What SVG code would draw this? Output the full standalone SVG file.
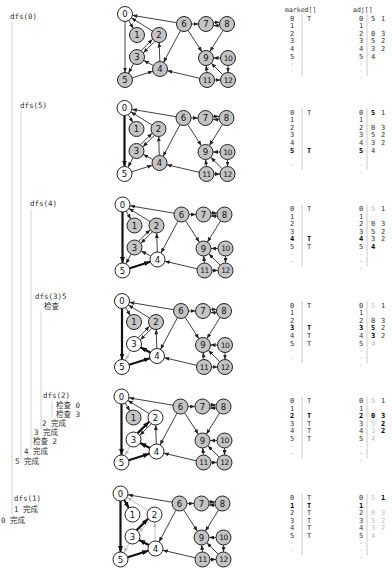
<svg xmlns="http://www.w3.org/2000/svg" width="392" height="571" viewBox="0 0 392 571">
<defs>
<marker id="a" markerUnits="userSpaceOnUse" markerWidth="5" markerHeight="4" refX="5" refY="2" orient="auto"><path d="M0,0 L5,2 L0,4 z" fill="#222"/></marker>
<marker id="ab" markerUnits="userSpaceOnUse" markerWidth="6" markerHeight="5" refX="6" refY="2.5" orient="auto"><path d="M0,0 L6,2.5 L0,5 z" fill="#111"/></marker>
<marker id="ag" markerUnits="userSpaceOnUse" markerWidth="5" markerHeight="4" refX="5" refY="2" orient="auto"><path d="M0,0 L5,2 L0,4 z" fill="#bdbdbd"/></marker>
<style>
.e{stroke:#2a2a2a;stroke-width:0.9;marker-end:url(#a)}
.t{stroke:#111;stroke-width:2.2;marker-end:url(#ab)}
.x{stroke:#c4c4c4;stroke-width:1;marker-end:url(#ag)}
circle.g{fill:#c4c4c4;stroke:#222;stroke-width:1}
circle.w{fill:#fff;stroke:#222;stroke-width:1}
.nl{font-family:"DejaVu Sans",sans-serif;font-size:8.5px;text-anchor:middle;fill:#111}
.nl2{font-family:"DejaVu Sans",sans-serif;font-size:7.5px;text-anchor:middle;fill:#111;letter-spacing:-0.6px}
.tr{font-family:"DejaVu Sans Mono","Noto Sans CJK SC",monospace;font-size:7.5px;fill:#333}
.tl{stroke:#c8c8c8;stroke-width:0.8}
.tb{font-family:"DejaVu Sans Mono",monospace;font-size:7px;fill:#333;text-anchor:middle}
.hd{font-family:"DejaVu Sans Mono",monospace;font-size:6.5px;fill:#333}
.b{font-weight:bold;fill:#000}
.gr{fill:#c0c0c0}
.vl{stroke:#bdbdbd;stroke-width:0.8}
.dt{fill:#aaa}
</style>
</defs>
<rect width="392" height="571" fill="#fff"/>

<!-- trace -->
<g id="trace">
<line class="tl" x1="12" y1="22" x2="12" y2="514"/>
<line class="tl" x1="21" y1="111" x2="21" y2="459"/>
<line class="tl" x1="31" y1="209" x2="31" y2="449"/>
<line class="tl" x1="41" y1="311" x2="41" y2="429"/>
<line class="tl" x1="52" y1="401" x2="52" y2="419"/>
<text class="tr" x="10" y="19">dfs(0)</text>
<text class="tr" x="20" y="108">dfs(5)</text>
<text class="tr" x="30" y="206">dfs(4)</text>
<text class="tr" x="35" y="299">dfs(3)5</text>
<text class="tr" x="44" y="309">检查</text>
<text class="tr" x="43" y="398">dfs(2)</text>
<text class="tr" x="56" y="408">检查 0</text>
<text class="tr" x="56" y="417">检查 3</text>
<text class="tr" x="42" y="426">2 完成</text>
<text class="tr" x="34" y="435">3 完成</text>
<text class="tr" x="33" y="444">检查 2</text>
<text class="tr" x="24" y="454">4 完成</text>
<text class="tr" x="15" y="464">5 完成</text>
<text class="tr" x="14" y="501">dfs(1)</text>
<text class="tr" x="14" y="512">1 完成</text>
<text class="tr" x="1" y="523">0 完成</text>
</g>

<!-- headers -->
<text class="hd" x="285" y="12">marked[]</text>
<text class="hd" x="353" y="12">adj[]</text>

<!-- ============ PANEL 1 ============ -->
<g id="panel1" transform="translate(0,0)">
<g id="p1-edges">
<line class="e" x1="128.7" y1="20.5" x2="133.3" y2="28.5"/>
<line class="e" x1="125" y1="21.5" x2="125" y2="72.5"/>
<line class="e" x1="152.6" y1="31.1" x2="131.4" y2="17.9"/>
<line class="e" x1="176.6" y1="22.7" x2="132.4" y2="15.3"/>
<line class="e" x1="154.8" y1="41.4" x2="143.4" y2="52.8"/>
<line class="e" x1="141.2" y1="50.6" x2="152.6" y2="39.2"/>
<line class="e" x1="133.5" y1="63.7" x2="128.5" y2="73.3"/>
<line class="e" x1="153.3" y1="65.5" x2="143.7" y2="60.5"/>
<line class="e" x1="159.8" y1="61.5" x2="159.2" y2="42.5"/>
<line class="e" x1="132.2" y1="77.8" x2="152.8" y2="71.3"/>
<line class="e" x1="180.5" y1="30.6" x2="163.5" y2="62.4"/>
<line class="e" x1="188.1" y1="30.3" x2="201.9" y2="51.7"/>
<line class="e" x1="191.5" y1="24" x2="198.5" y2="24"/>
<line class="e" x1="213.5" y1="22.4" x2="219.5" y2="22.4"/>
<line class="e" x1="219.5" y1="25.6" x2="213.5" y2="25.6"/>
<line class="e" x1="223.1" y1="30.4" x2="209.9" y2="51.6"/>
<line class="e" x1="220.5" y1="58" x2="213.5" y2="58"/>
<line class="e" x1="228" y1="65.5" x2="228" y2="72.5"/>
<line class="e" x1="222.7" y1="74.7" x2="211.3" y2="63.3"/>
<line class="e" x1="207" y1="72.5" x2="206.1" y2="65.5"/>
<line class="e" x1="214.5" y1="80" x2="220.5" y2="80"/>
<line class="e" x1="199.7" y1="78.3" x2="167.3" y2="70.7"/>
</g>
<g id="p1-n0"><circle class="w" cx="125" cy="14" r="7.5"/><text class="nl" x="125" y="17">0</text></g>
<g id="p1-n1"><circle class="g" cx="137" cy="35" r="7.5"/><text class="nl" x="137" y="38">1</text></g>
<g id="p1-n2"><circle class="g" cx="159" cy="35" r="7.5"/><text class="nl" x="159" y="38">2</text></g>
<g id="p1-n3"><circle class="g" cx="137" cy="57" r="7.5"/><text class="nl" x="137" y="60">3</text></g>
<g id="p1-n4"><circle class="g" cx="160" cy="69" r="7.5"/><text class="nl" x="160" y="72">4</text></g>
<g id="p1-n5"><circle class="g" cx="125" cy="80" r="7.5"/><text class="nl" x="125" y="83">5</text></g>
<g id="p1-n6"><circle class="g" cx="184" cy="24" r="7.5"/><text class="nl" x="184" y="27">6</text></g>
<g id="p1-n7"><circle class="g" cx="206" cy="24" r="7.5"/><text class="nl" x="206" y="27">7</text></g>
<g id="p1-n8"><circle class="g" cx="227" cy="24" r="7.5"/><text class="nl" x="227" y="27">8</text></g>
<g id="p1-n9"><circle class="g" cx="206" cy="58" r="7.5"/><text class="nl" x="206" y="61">9</text></g>
<g id="p1-n10"><circle class="g" cx="228" cy="58" r="7.5"/><text class="nl2" x="228" y="60.7">10</text></g>
<g id="p1-n11"><circle class="g" cx="207" cy="80" r="7.5"/><text class="nl2" x="207" y="82.7">11</text></g>
<g id="p1-n12"><circle class="g" cx="228" cy="80" r="7.5"/><text class="nl2" x="228" y="82.7">12</text></g>
</g>
<g id="p1-marked">
<line class="vl" x1="302" y1="14" x2="302" y2="76"/>
<text class="tb" x="292" y="20.5">0</text><text class="tb" x="292" y="28.1">1</text><text class="tb" x="292" y="35.7">2</text><text class="tb" x="292" y="43.3">3</text><text class="tb" x="292" y="50.9">4</text><text class="tb" x="292" y="58.5">5</text>
<circle class="dt" cx="292" cy="64" r="0.6"/><circle class="dt" cx="292" cy="71" r="0.6"/>
<text class="tb" x="309" y="20.5">T</text>
</g>
<g id="p1-adj">
<line class="vl" x1="367" y1="14" x2="367" y2="76"/>
<text class="tb" x="361" y="20.5">0</text><text class="tb" x="361" y="28.1">1</text><text class="tb" x="361" y="35.7">2</text><text class="tb" x="361" y="43.3">3</text><text class="tb" x="361" y="50.9">4</text><text class="tb" x="361" y="58.5">5</text>
<circle class="dt" cx="361" cy="64" r="0.6"/><circle class="dt" cx="361" cy="71" r="0.6"/><circle class="dt" cx="361" cy="78" r="0.6"/>
<text class="tb" x="373" y="20.5">5</text><text class="tb" x="383" y="20.5">1</text>
<text class="tb" x="373" y="35.7">0</text><text class="tb" x="383" y="35.7">3</text>
<text class="tb" x="373" y="43.3">5</text><text class="tb" x="383" y="43.3">2</text>
<text class="tb" x="373" y="50.9">3</text><text class="tb" x="383" y="50.9">2</text>
<text class="tb" x="373" y="58.5">4</text>
</g>

<!-- ============ PANEL 2 ============ -->
<g id="panel2" transform="translate(-0.5,94)">
<g id="p2-edges">
<line class="e" x1="128.7" y1="20.5" x2="133.3" y2="28.5"/>
<line class="t" x1="125" y1="21.5" x2="125" y2="72.5"/>
<line class="e" x1="152.6" y1="31.1" x2="131.4" y2="17.9"/>
<line class="e" x1="176.6" y1="22.7" x2="132.4" y2="15.3"/>
<line class="e" x1="154.8" y1="41.4" x2="143.4" y2="52.8"/>
<line class="e" x1="141.2" y1="50.6" x2="152.6" y2="39.2"/>
<line class="e" x1="133.5" y1="63.7" x2="128.5" y2="73.3"/>
<line class="e" x1="153.3" y1="65.5" x2="143.7" y2="60.5"/>
<line class="e" x1="159.8" y1="61.5" x2="159.2" y2="42.5"/>
<line class="e" x1="132.2" y1="77.8" x2="152.8" y2="71.3"/>
<line class="e" x1="180.5" y1="30.6" x2="163.5" y2="62.4"/>
<line class="e" x1="188.1" y1="30.3" x2="201.9" y2="51.7"/>
<line class="e" x1="191.5" y1="24" x2="198.5" y2="24"/>
<line class="e" x1="213.5" y1="22.4" x2="219.5" y2="22.4"/>
<line class="e" x1="219.5" y1="25.6" x2="213.5" y2="25.6"/>
<line class="e" x1="223.1" y1="30.4" x2="209.9" y2="51.6"/>
<line class="e" x1="220.5" y1="58" x2="213.5" y2="58"/>
<line class="e" x1="228" y1="65.5" x2="228" y2="72.5"/>
<line class="e" x1="222.7" y1="74.7" x2="211.3" y2="63.3"/>
<line class="e" x1="207" y1="72.5" x2="206.1" y2="65.5"/>
<line class="e" x1="214.5" y1="80" x2="220.5" y2="80"/>
<line class="e" x1="199.7" y1="78.3" x2="167.3" y2="70.7"/>
</g>
<g id="p2-n0"><circle class="w" cx="125" cy="14" r="7.5"/><text class="nl" x="125" y="17">0</text></g>
<g id="p2-n1"><circle class="g" cx="137" cy="35" r="7.5"/><text class="nl" x="137" y="38">1</text></g>
<g id="p2-n2"><circle class="g" cx="159" cy="35" r="7.5"/><text class="nl" x="159" y="38">2</text></g>
<g id="p2-n3"><circle class="g" cx="137" cy="57" r="7.5"/><text class="nl" x="137" y="60">3</text></g>
<g id="p2-n4"><circle class="g" cx="160" cy="69" r="7.5"/><text class="nl" x="160" y="72">4</text></g>
<g id="p2-n5"><circle class="w" cx="125" cy="80" r="7.5"/><text class="nl" x="125" y="83">5</text></g>
<g id="p2-n6"><circle class="g" cx="184" cy="24" r="7.5"/><text class="nl" x="184" y="27">6</text></g>
<g id="p2-n7"><circle class="g" cx="206" cy="24" r="7.5"/><text class="nl" x="206" y="27">7</text></g>
<g id="p2-n8"><circle class="g" cx="227" cy="24" r="7.5"/><text class="nl" x="227" y="27">8</text></g>
<g id="p2-n9"><circle class="g" cx="206" cy="58" r="7.5"/><text class="nl" x="206" y="61">9</text></g>
<g id="p2-n10"><circle class="g" cx="228" cy="58" r="7.5"/><text class="nl2" x="228" y="60.7">10</text></g>
<g id="p2-n11"><circle class="g" cx="207" cy="80" r="7.5"/><text class="nl2" x="207" y="82.7">11</text></g>
<g id="p2-n12"><circle class="g" cx="228" cy="80" r="7.5"/><text class="nl2" x="228" y="82.7">12</text></g>
</g>
<g id="p2-marked" transform="translate(0,94)">
<line class="vl" x1="302" y1="14" x2="302" y2="76"/>
<text class="tb" x="292" y="20.5">0</text><text class="tb" x="292" y="28.1">1</text><text class="tb" x="292" y="35.7">2</text><text class="tb" x="292" y="43.3">3</text><text class="tb" x="292" y="50.9">4</text><text class="tb b" x="292" y="58.5">5</text>
<circle class="dt" cx="292" cy="64" r="0.6"/><circle class="dt" cx="292" cy="71" r="0.6"/>
<text class="tb" x="309" y="20.5">T</text><text class="tb b" x="309" y="58.5">T</text>
</g>
<g id="p2-adj" transform="translate(0,94)">
<line class="vl" x1="367" y1="14" x2="367" y2="76"/>
<text class="tb" x="361" y="20.5">0</text><text class="tb" x="361" y="28.1">1</text><text class="tb" x="361" y="35.7">2</text><text class="tb" x="361" y="43.3">3</text><text class="tb" x="361" y="50.9">4</text><text class="tb b" x="361" y="58.5">5</text>
<circle class="dt" cx="361" cy="64" r="0.6"/><circle class="dt" cx="361" cy="71" r="0.6"/><circle class="dt" cx="361" cy="78" r="0.6"/>
<text class="tb b" x="373" y="20.5">5</text><text class="tb" x="383" y="20.5">1</text>
<text class="tb" x="373" y="35.7">0</text><text class="tb" x="383" y="35.7">3</text>
<text class="tb" x="373" y="43.3">5</text><text class="tb" x="383" y="43.3">2</text>
<text class="tb" x="373" y="50.9">3</text><text class="tb" x="383" y="50.9">2</text>
<text class="tb" x="373" y="58.5">4</text>
</g>

<!-- ============ PANEL 3 ============ -->
<g id="panel3" transform="translate(-2.5,190.5)">
<g id="p3-edges">
<line class="e" x1="128.7" y1="20.5" x2="133.3" y2="28.5"/>
<line class="t" x1="125" y1="21.5" x2="125" y2="72.5"/>
<line class="e" x1="152.6" y1="31.1" x2="131.4" y2="17.9"/>
<line class="e" x1="176.6" y1="22.7" x2="132.4" y2="15.3"/>
<line class="e" x1="154.8" y1="41.4" x2="143.4" y2="52.8"/>
<line class="e" x1="141.2" y1="50.6" x2="152.6" y2="39.2"/>
<line class="e" x1="133.5" y1="63.7" x2="128.5" y2="73.3"/>
<line class="e" x1="153.3" y1="65.5" x2="143.7" y2="60.5"/>
<line class="e" x1="159.8" y1="61.5" x2="159.2" y2="42.5"/>
<line class="t" x1="132.2" y1="77.8" x2="152.8" y2="71.3"/>
<line class="e" x1="180.5" y1="30.6" x2="163.5" y2="62.4"/>
<line class="e" x1="188.1" y1="30.3" x2="201.9" y2="51.7"/>
<line class="e" x1="191.5" y1="24" x2="198.5" y2="24"/>
<line class="e" x1="213.5" y1="22.4" x2="219.5" y2="22.4"/>
<line class="e" x1="219.5" y1="25.6" x2="213.5" y2="25.6"/>
<line class="e" x1="223.1" y1="30.4" x2="209.9" y2="51.6"/>
<line class="e" x1="220.5" y1="58" x2="213.5" y2="58"/>
<line class="e" x1="228" y1="65.5" x2="228" y2="72.5"/>
<line class="e" x1="222.7" y1="74.7" x2="211.3" y2="63.3"/>
<line class="e" x1="207" y1="72.5" x2="206.1" y2="65.5"/>
<line class="e" x1="214.5" y1="80" x2="220.5" y2="80"/>
<line class="e" x1="199.7" y1="78.3" x2="167.3" y2="70.7"/>
</g>
<g id="p3-n0"><circle class="w" cx="125" cy="14" r="7.5"/><text class="nl" x="125" y="17">0</text></g>
<g id="p3-n1"><circle class="g" cx="137" cy="35" r="7.5"/><text class="nl" x="137" y="38">1</text></g>
<g id="p3-n2"><circle class="g" cx="159" cy="35" r="7.5"/><text class="nl" x="159" y="38">2</text></g>
<g id="p3-n3"><circle class="g" cx="137" cy="57" r="7.5"/><text class="nl" x="137" y="60">3</text></g>
<g id="p3-n4"><circle class="w" cx="160" cy="69" r="7.5"/><text class="nl" x="160" y="72">4</text></g>
<g id="p3-n5"><circle class="w" cx="125" cy="80" r="7.5"/><text class="nl" x="125" y="83">5</text></g>
<g id="p3-n6"><circle class="g" cx="184" cy="24" r="7.5"/><text class="nl" x="184" y="27">6</text></g>
<g id="p3-n7"><circle class="g" cx="206" cy="24" r="7.5"/><text class="nl" x="206" y="27">7</text></g>
<g id="p3-n8"><circle class="g" cx="227" cy="24" r="7.5"/><text class="nl" x="227" y="27">8</text></g>
<g id="p3-n9"><circle class="g" cx="206" cy="58" r="7.5"/><text class="nl" x="206" y="61">9</text></g>
<g id="p3-n10"><circle class="g" cx="228" cy="58" r="7.5"/><text class="nl2" x="228" y="60.7">10</text></g>
<g id="p3-n11"><circle class="g" cx="207" cy="80" r="7.5"/><text class="nl2" x="207" y="82.7">11</text></g>
<g id="p3-n12"><circle class="g" cx="228" cy="80" r="7.5"/><text class="nl2" x="228" y="82.7">12</text></g>
</g>
<g id="p3-marked" transform="translate(0,190.5)">
<line class="vl" x1="302" y1="14" x2="302" y2="76"/>
<text class="tb" x="292" y="20.5">0</text><text class="tb" x="292" y="28.1">1</text><text class="tb" x="292" y="35.7">2</text><text class="tb" x="292" y="43.3">3</text><text class="tb b" x="292" y="50.9">4</text><text class="tb" x="292" y="58.5">5</text>
<circle class="dt" cx="292" cy="64" r="0.6"/><circle class="dt" cx="292" cy="71" r="0.6"/>
<text class="tb" x="309" y="20.5">T</text><text class="tb b" x="309" y="50.9">T</text><text class="tb" x="309" y="58.5">T</text>
</g>
<g id="p3-adj" transform="translate(0,190.5)">
<line class="vl" x1="367" y1="14" x2="367" y2="76"/>
<text class="tb" x="361" y="20.5">0</text><text class="tb" x="361" y="28.1">1</text><text class="tb" x="361" y="35.7">2</text><text class="tb" x="361" y="43.3">3</text><text class="tb b" x="361" y="50.9">4</text><text class="tb" x="361" y="58.5">5</text>
<circle class="dt" cx="361" cy="64" r="0.6"/><circle class="dt" cx="361" cy="71" r="0.6"/><circle class="dt" cx="361" cy="78" r="0.6"/>
<text class="tb gr" x="373" y="20.5">5</text><text class="tb" x="383" y="20.5">1</text>
<text class="tb" x="373" y="35.7">0</text><text class="tb" x="383" y="35.7">3</text>
<text class="tb" x="373" y="43.3">5</text><text class="tb" x="383" y="43.3">2</text>
<text class="tb" x="373" y="50.9">3</text><text class="tb" x="383" y="50.9">2</text>
<text class="tb b" x="373" y="58.5">4</text>
</g>

<!-- ============ PANEL 4 ============ -->
<g id="panel4" transform="translate(-3,287)">
<g id="p4-edges">
<line class="e" x1="128.7" y1="20.5" x2="133.3" y2="28.5"/>
<line class="t" x1="125" y1="21.5" x2="125" y2="72.5"/>
<line class="e" x1="152.6" y1="31.1" x2="131.4" y2="17.9"/>
<line class="e" x1="176.6" y1="22.7" x2="132.4" y2="15.3"/>
<line class="e" x1="154.8" y1="41.4" x2="143.4" y2="52.8"/>
<line class="e" x1="141.2" y1="50.6" x2="152.6" y2="39.2"/>
<line class="x" x1="133.5" y1="63.7" x2="128.5" y2="73.3"/>
<line class="t" x1="153.3" y1="65.5" x2="143.7" y2="60.5"/>
<line class="e" x1="159.8" y1="61.5" x2="159.2" y2="42.5"/>
<line class="t" x1="132.2" y1="77.8" x2="152.8" y2="71.3"/>
<line class="e" x1="180.5" y1="30.6" x2="163.5" y2="62.4"/>
<line class="e" x1="188.1" y1="30.3" x2="201.9" y2="51.7"/>
<line class="e" x1="191.5" y1="24" x2="198.5" y2="24"/>
<line class="e" x1="213.5" y1="22.4" x2="219.5" y2="22.4"/>
<line class="e" x1="219.5" y1="25.6" x2="213.5" y2="25.6"/>
<line class="e" x1="223.1" y1="30.4" x2="209.9" y2="51.6"/>
<line class="e" x1="220.5" y1="58" x2="213.5" y2="58"/>
<line class="e" x1="228" y1="65.5" x2="228" y2="72.5"/>
<line class="e" x1="222.7" y1="74.7" x2="211.3" y2="63.3"/>
<line class="e" x1="207" y1="72.5" x2="206.1" y2="65.5"/>
<line class="e" x1="214.5" y1="80" x2="220.5" y2="80"/>
<line class="e" x1="199.7" y1="78.3" x2="167.3" y2="70.7"/>
</g>
<g id="p4-n0"><circle class="w" cx="125" cy="14" r="7.5"/><text class="nl" x="125" y="17">0</text></g>
<g id="p4-n1"><circle class="g" cx="137" cy="35" r="7.5"/><text class="nl" x="137" y="38">1</text></g>
<g id="p4-n2"><circle class="g" cx="159" cy="35" r="7.5"/><text class="nl" x="159" y="38">2</text></g>
<g id="p4-n3"><circle class="w" cx="137" cy="57" r="7.5"/><text class="nl" x="137" y="60">3</text></g>
<g id="p4-n4"><circle class="w" cx="160" cy="69" r="7.5"/><text class="nl" x="160" y="72">4</text></g>
<g id="p4-n5"><circle class="w" cx="125" cy="80" r="7.5"/><text class="nl" x="125" y="83">5</text></g>
<g id="p4-n6"><circle class="g" cx="184" cy="24" r="7.5"/><text class="nl" x="184" y="27">6</text></g>
<g id="p4-n7"><circle class="g" cx="206" cy="24" r="7.5"/><text class="nl" x="206" y="27">7</text></g>
<g id="p4-n8"><circle class="g" cx="227" cy="24" r="7.5"/><text class="nl" x="227" y="27">8</text></g>
<g id="p4-n9"><circle class="g" cx="206" cy="58" r="7.5"/><text class="nl" x="206" y="61">9</text></g>
<g id="p4-n10"><circle class="g" cx="228" cy="58" r="7.5"/><text class="nl2" x="228" y="60.7">10</text></g>
<g id="p4-n11"><circle class="g" cx="207" cy="80" r="7.5"/><text class="nl2" x="207" y="82.7">11</text></g>
<g id="p4-n12"><circle class="g" cx="228" cy="80" r="7.5"/><text class="nl2" x="228" y="82.7">12</text></g>
</g>
<g id="p4-marked" transform="translate(0,287)">
<line class="vl" x1="302" y1="14" x2="302" y2="76"/>
<text class="tb" x="292" y="20.5">0</text><text class="tb" x="292" y="28.1">1</text><text class="tb" x="292" y="35.7">2</text><text class="tb b" x="292" y="43.3">3</text><text class="tb" x="292" y="50.9">4</text><text class="tb" x="292" y="58.5">5</text>
<circle class="dt" cx="292" cy="64" r="0.6"/><circle class="dt" cx="292" cy="71" r="0.6"/>
<text class="tb" x="309" y="20.5">T</text><text class="tb b" x="309" y="43.3">T</text><text class="tb" x="309" y="50.9">T</text><text class="tb" x="309" y="58.5">T</text>
</g>
<g id="p4-adj" transform="translate(0,287)">
<line class="vl" x1="367" y1="14" x2="367" y2="76"/>
<text class="tb" x="361" y="20.5">0</text><text class="tb" x="361" y="28.1">1</text><text class="tb" x="361" y="35.7">2</text><text class="tb b" x="361" y="43.3">3</text><text class="tb" x="361" y="50.9">4</text><text class="tb" x="361" y="58.5">5</text>
<circle class="dt" cx="361" cy="64" r="0.6"/><circle class="dt" cx="361" cy="71" r="0.6"/><circle class="dt" cx="361" cy="78" r="0.6"/>
<text class="tb gr" x="373" y="20.5">5</text><text class="tb" x="383" y="20.5">1</text>
<text class="tb" x="373" y="35.7">0</text><text class="tb" x="383" y="35.7">3</text>
<text class="tb b" x="373" y="43.3">5</text><text class="tb" x="383" y="43.3">2</text>
<text class="tb b" x="373" y="50.9">3</text><text class="tb" x="383" y="50.9">2</text>
<text class="tb gr" x="373" y="58.5">4</text>
</g>

<!-- ============ PANEL 5 ============ -->
<g id="panel5" transform="translate(-3.5,382.5)">
<g id="p5-edges">
<line class="e" x1="128.7" y1="20.5" x2="133.3" y2="28.5"/>
<line class="t" x1="125" y1="21.5" x2="125" y2="72.5"/>
<line class="e" x1="152.6" y1="31.1" x2="131.4" y2="17.9"/>
<line class="e" x1="176.6" y1="22.7" x2="132.4" y2="15.3"/>
<line class="e" x1="154.8" y1="41.4" x2="143.4" y2="52.8"/>
<line class="t" x1="141.2" y1="50.6" x2="152.6" y2="39.2"/>
<line class="x" x1="133.5" y1="63.7" x2="128.5" y2="73.3"/>
<line class="t" x1="153.3" y1="65.5" x2="143.7" y2="60.5"/>
<line class="e" x1="159.8" y1="61.5" x2="159.2" y2="42.5"/>
<line class="t" x1="132.2" y1="77.8" x2="152.8" y2="71.3"/>
<line class="e" x1="180.5" y1="30.6" x2="163.5" y2="62.4"/>
<line class="e" x1="188.1" y1="30.3" x2="201.9" y2="51.7"/>
<line class="e" x1="191.5" y1="24" x2="198.5" y2="24"/>
<line class="e" x1="213.5" y1="22.4" x2="219.5" y2="22.4"/>
<line class="e" x1="219.5" y1="25.6" x2="213.5" y2="25.6"/>
<line class="e" x1="223.1" y1="30.4" x2="209.9" y2="51.6"/>
<line class="e" x1="220.5" y1="58" x2="213.5" y2="58"/>
<line class="e" x1="228" y1="65.5" x2="228" y2="72.5"/>
<line class="e" x1="222.7" y1="74.7" x2="211.3" y2="63.3"/>
<line class="e" x1="207" y1="72.5" x2="206.1" y2="65.5"/>
<line class="e" x1="214.5" y1="80" x2="220.5" y2="80"/>
<line class="e" x1="199.7" y1="78.3" x2="167.3" y2="70.7"/>
</g>
<g id="p5-n0"><circle class="w" cx="125" cy="14" r="7.5"/><text class="nl" x="125" y="17">0</text></g>
<g id="p5-n1"><circle class="g" cx="137" cy="35" r="7.5"/><text class="nl" x="137" y="38">1</text></g>
<g id="p5-n2"><circle class="w" cx="159" cy="35" r="7.5"/><text class="nl" x="159" y="38">2</text></g>
<g id="p5-n3"><circle class="w" cx="137" cy="57" r="7.5"/><text class="nl" x="137" y="60">3</text></g>
<g id="p5-n4"><circle class="w" cx="160" cy="69" r="7.5"/><text class="nl" x="160" y="72">4</text></g>
<g id="p5-n5"><circle class="w" cx="125" cy="80" r="7.5"/><text class="nl" x="125" y="83">5</text></g>
<g id="p5-n6"><circle class="g" cx="184" cy="24" r="7.5"/><text class="nl" x="184" y="27">6</text></g>
<g id="p5-n7"><circle class="g" cx="206" cy="24" r="7.5"/><text class="nl" x="206" y="27">7</text></g>
<g id="p5-n8"><circle class="g" cx="227" cy="24" r="7.5"/><text class="nl" x="227" y="27">8</text></g>
<g id="p5-n9"><circle class="g" cx="206" cy="58" r="7.5"/><text class="nl" x="206" y="61">9</text></g>
<g id="p5-n10"><circle class="g" cx="228" cy="58" r="7.5"/><text class="nl2" x="228" y="60.7">10</text></g>
<g id="p5-n11"><circle class="g" cx="207" cy="80" r="7.5"/><text class="nl2" x="207" y="82.7">11</text></g>
<g id="p5-n12"><circle class="g" cx="228" cy="80" r="7.5"/><text class="nl2" x="228" y="82.7">12</text></g>
</g>
<g id="p5-marked" transform="translate(0,382.5)">
<line class="vl" x1="302" y1="14" x2="302" y2="76"/>
<text class="tb" x="292" y="20.5">0</text><text class="tb" x="292" y="28.1">1</text><text class="tb b" x="292" y="35.7">2</text><text class="tb" x="292" y="43.3">3</text><text class="tb" x="292" y="50.9">4</text><text class="tb" x="292" y="58.5">5</text>
<circle class="dt" cx="292" cy="64" r="0.6"/><circle class="dt" cx="292" cy="71" r="0.6"/>
<text class="tb" x="309" y="20.5">T</text><text class="tb b" x="309" y="35.7">T</text><text class="tb" x="309" y="43.3">T</text><text class="tb" x="309" y="50.9">T</text><text class="tb" x="309" y="58.5">T</text>
</g>
<g id="p5-adj" transform="translate(0,382.5)">
<line class="vl" x1="367" y1="14" x2="367" y2="76"/>
<text class="tb" x="361" y="20.5">0</text><text class="tb" x="361" y="28.1">1</text><text class="tb b" x="361" y="35.7">2</text><text class="tb" x="361" y="43.3">3</text><text class="tb" x="361" y="50.9">4</text><text class="tb" x="361" y="58.5">5</text>
<circle class="dt" cx="361" cy="64" r="0.6"/><circle class="dt" cx="361" cy="71" r="0.6"/><circle class="dt" cx="361" cy="78" r="0.6"/>
<text class="tb gr" x="373" y="20.5">5</text><text class="tb" x="383" y="20.5">1</text>
<text class="tb b" x="373" y="35.7">0</text><text class="tb b" x="383" y="35.7">3</text>
<text class="tb gr" x="373" y="43.3">5</text><text class="tb b" x="383" y="43.3">2</text>
<text class="tb gr" x="373" y="50.9">3</text><text class="tb b" x="383" y="50.9">2</text>
<text class="tb gr" x="373" y="58.5">4</text>
</g>

<!-- ============ PANEL 6 ============ -->
<g id="panel6" transform="translate(-4.5,479.5)">
<g id="p6-edges">
<line class="t" x1="128.7" y1="20.5" x2="133.3" y2="28.5"/>
<line class="t" x1="125" y1="21.5" x2="125" y2="72.5"/>
<line class="x" x1="152.6" y1="31.1" x2="131.4" y2="17.9"/>
<line class="e" x1="176.6" y1="22.7" x2="132.4" y2="15.3"/>
<line class="x" x1="154.8" y1="41.4" x2="143.4" y2="52.8"/>
<line class="t" x1="141.2" y1="50.6" x2="152.6" y2="39.2"/>
<line class="x" x1="133.5" y1="63.7" x2="128.5" y2="73.3"/>
<line class="t" x1="153.3" y1="65.5" x2="143.7" y2="60.5"/>
<line class="x" x1="159.8" y1="61.5" x2="159.2" y2="42.5"/>
<line class="t" x1="132.2" y1="77.8" x2="152.8" y2="71.3"/>
<line class="e" x1="180.5" y1="30.6" x2="163.5" y2="62.4"/>
<line class="e" x1="188.1" y1="30.3" x2="201.9" y2="51.7"/>
<line class="e" x1="191.5" y1="24" x2="198.5" y2="24"/>
<line class="e" x1="213.5" y1="22.4" x2="219.5" y2="22.4"/>
<line class="e" x1="219.5" y1="25.6" x2="213.5" y2="25.6"/>
<line class="e" x1="223.1" y1="30.4" x2="209.9" y2="51.6"/>
<line class="e" x1="220.5" y1="58" x2="213.5" y2="58"/>
<line class="e" x1="228" y1="65.5" x2="228" y2="72.5"/>
<line class="e" x1="222.7" y1="74.7" x2="211.3" y2="63.3"/>
<line class="e" x1="207" y1="72.5" x2="206.1" y2="65.5"/>
<line class="e" x1="214.5" y1="80" x2="220.5" y2="80"/>
<line class="e" x1="199.7" y1="78.3" x2="167.3" y2="70.7"/>
</g>
<g id="p6-n0"><circle class="w" cx="125" cy="14" r="7.5"/><text class="nl" x="125" y="17">0</text></g>
<g id="p6-n1"><circle class="w" cx="137" cy="35" r="7.5"/><text class="nl" x="137" y="38">1</text></g>
<g id="p6-n2"><circle class="w" cx="159" cy="35" r="7.5"/><text class="nl" x="159" y="38">2</text></g>
<g id="p6-n3"><circle class="w" cx="137" cy="57" r="7.5"/><text class="nl" x="137" y="60">3</text></g>
<g id="p6-n4"><circle class="w" cx="160" cy="69" r="7.5"/><text class="nl" x="160" y="72">4</text></g>
<g id="p6-n5"><circle class="w" cx="125" cy="80" r="7.5"/><text class="nl" x="125" y="83">5</text></g>
<g id="p6-n6"><circle class="g" cx="184" cy="24" r="7.5"/><text class="nl" x="184" y="27">6</text></g>
<g id="p6-n7"><circle class="g" cx="206" cy="24" r="7.5"/><text class="nl" x="206" y="27">7</text></g>
<g id="p6-n8"><circle class="g" cx="227" cy="24" r="7.5"/><text class="nl" x="227" y="27">8</text></g>
<g id="p6-n9"><circle class="g" cx="206" cy="58" r="7.5"/><text class="nl" x="206" y="61">9</text></g>
<g id="p6-n10"><circle class="g" cx="228" cy="58" r="7.5"/><text class="nl2" x="228" y="60.7">10</text></g>
<g id="p6-n11"><circle class="g" cx="207" cy="80" r="7.5"/><text class="nl2" x="207" y="82.7">11</text></g>
<g id="p6-n12"><circle class="g" cx="228" cy="80" r="7.5"/><text class="nl2" x="228" y="82.7">12</text></g>
</g>
<g id="p6-marked" transform="translate(0,479.5)">
<line class="vl" x1="302" y1="14" x2="302" y2="76"/>
<text class="tb" x="292" y="20.5">0</text><text class="tb b" x="292" y="28.1">1</text><text class="tb" x="292" y="35.7">2</text><text class="tb" x="292" y="43.3">3</text><text class="tb" x="292" y="50.9">4</text><text class="tb" x="292" y="58.5">5</text>
<circle class="dt" cx="292" cy="64" r="0.6"/><circle class="dt" cx="292" cy="71" r="0.6"/>
<text class="tb" x="309" y="20.5">T</text><text class="tb b" x="309" y="28.1">T</text><text class="tb" x="309" y="35.7">T</text><text class="tb" x="309" y="43.3">T</text><text class="tb" x="309" y="50.9">T</text><text class="tb" x="309" y="58.5">T</text>
</g>
<g id="p6-adj" transform="translate(0,479.5)">
<line class="vl" x1="367" y1="14" x2="367" y2="76"/>
<text class="tb" x="361" y="20.5">0</text><text class="tb b" x="361" y="28.1">1</text><text class="tb" x="361" y="35.7">2</text><text class="tb" x="361" y="43.3">3</text><text class="tb" x="361" y="50.9">4</text><text class="tb" x="361" y="58.5">5</text>
<circle class="dt" cx="361" cy="64" r="0.6"/><circle class="dt" cx="361" cy="71" r="0.6"/><circle class="dt" cx="361" cy="78" r="0.6"/>
<text class="tb gr" x="373" y="20.5">5</text><text class="tb b" x="383" y="20.5">1</text>
<text class="tb gr" x="373" y="35.7">0</text><text class="tb gr" x="383" y="35.7">3</text>
<text class="tb gr" x="373" y="43.3">5</text><text class="tb gr" x="383" y="43.3">2</text>
<text class="tb gr" x="373" y="50.9">3</text><text class="tb gr" x="383" y="50.9">2</text>
<text class="tb gr" x="373" y="58.5">4</text>
</g>
</svg>
